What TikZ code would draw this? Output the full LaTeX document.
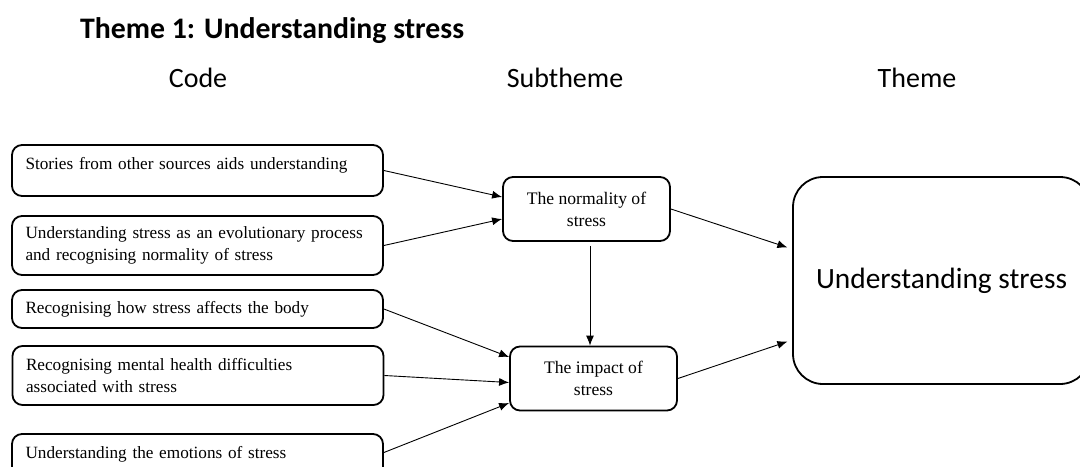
\documentclass[tikz,border=0pt]{standalone}
\usepackage{fontspec}
\setmainfont{Liberation Serif}
\newfontfamily\headfont{Carlito}
\usetikzlibrary{arrows.meta,positioning}

\tikzset{
  codebox/.style={draw, line width=0.9pt, rounded corners=5pt, minimum width=185.5pt,
    text width=172pt, inner xsep=6.75pt, align=left, font=\fontsize{8.6}{11}\selectfont},
  subbox/.style={draw, line width=0.9pt, rounded corners=5pt, minimum width=83.5pt,
    minimum height=32pt, align=center, font=\fontsize{8.8}{11}\selectfont},
  themebox/.style={draw, line width=0.9pt, rounded corners=15pt, minimum width=148.5pt,
    minimum height=103.5pt, font=\headfont\fontsize{14.7}{17}\selectfont},
  heading/.style={font=\headfont\fontsize{14}{17}\selectfont},
  link/.style={-{Latex[length=5pt,width=4pt]}, line width=0.45pt}
}

\begin{document}
\begin{tikzpicture}[x=0.5pt,y=-0.5pt]
        \clip (0,0) rectangle (1080,466);
        \fill[white] (0,0) rectangle (1080,466);

        % Titres
        \node[font=\headfont\bfseries\fontsize{14.9}{17}\selectfont, anchor=west] (title) at (73,31) {Theme 1: Understanding stress};
        \node[heading] (hcode) at (198,78) {Code};
        \node[heading] (hsub) at (565,78) {Subtheme};
        \node[heading] (htheme) at (917,78) {Theme};

        % Codes
        \node[codebox, minimum height=25.5pt, text depth=7.5pt] (c1) at (197.5,170.5) {Stories from other sources aids understanding};
        \node[codebox, minimum height=29.5pt] (c2) at (197.5,245.5) {Understanding stress as an evolutionary process\\and recognising normality of stress};
        \node[codebox, minimum height=19pt] (c3) at (197.5,309) {Recognising how stress affects the body};
        \node[codebox, minimum height=29.5pt] (c4) at (198,375.5) {Recognising mental health difficulties\\associated with stress};
        \node[codebox, minimum height=25.5pt, text depth=7.5pt] (c5) at (197.5,459.5) {Understanding the emotions of stress};

        % Sous-themes
        \node[subbox] (norm) at (586.5,209) {The normality of\\stress};
        \node[subbox] (imp) at (593.5,378.5) {The impact of\\stress};

        % Theme
        \node[themebox] (theme) at (941.5,280.5) {Understanding stress};

        % Fleches
        \draw[link] (c1.east) -- ([yshift=6pt]norm.west);
        \draw[link] (c2.east) -- ([yshift=-5pt]norm.west);
        \draw[link, shorten <=2pt] ([xshift=1.75pt]norm.south) -- ([xshift=1.75pt]norm.south |- imp.north);
        \draw[link] (c3.east) -- ([yshift=10.75pt]imp.west);
        \draw[link] (c4.east) -- ([yshift=-2pt]imp.west);
        \draw[link] ([yshift=3.5pt]c5.east) -- ([yshift=-12.25pt]imp.west);
        \draw[link, shorten >=2.5pt] (norm.east) -- ([yshift=15.75pt]theme.west);
        \draw[link, shorten >=2.5pt] (imp.east) -- ([yshift=-29.75pt]theme.west);
    \end{tikzpicture}
\end{document}
